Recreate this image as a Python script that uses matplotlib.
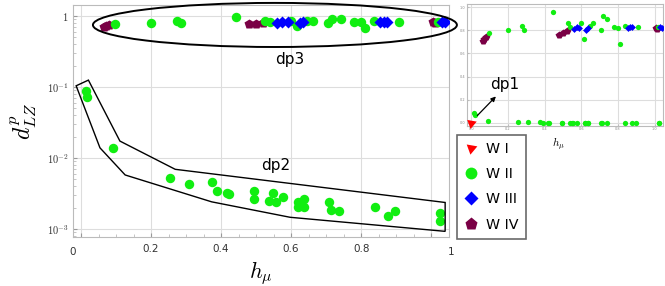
import matplotlib
matplotlib.use("Agg")
import matplotlib.pyplot as plt
import numpy as np
from matplotlib.patches import Ellipse, Polygon
from matplotlib.lines import Line2D
from matplotlib.ticker import MultipleLocator, LogLocator, NullFormatter

plt.rcParams['mathtext.fontset'] = 'cm'

# ---------------- data ----------------
# W I (red triangle) - only visible on linear inset (value 0)
w1_x = [0.0]
w1_y = [0.0]

# W II (green circles)
w2_x = [0.014, 0.018, 0.091, 0.254, 0.309, 0.373, 0.389, 0.416, 0.424, 0.494, 0.494,
        0.538, 0.548, 0.557, 0.576, 0.621, 0.621, 0.637, 0.637, 0.707, 0.713, 0.738,
        0.840, 0.878, 0.897, 1.024, 1.024,
        0.097, 0.199, 0.275, 0.286, 0.443, 0.526, 0.540, 0.600, 0.617, 0.645, 0.663,
        0.706, 0.716, 0.742, 0.780, 0.800, 0.810, 0.836, 0.909, 1.020]
w2_y = [0.0867, 0.0715, 0.0139, 0.00518, 0.00426, 0.00459, 0.00337, 0.00316, 0.00309,
        0.00337, 0.00262, 0.00244, 0.00319, 0.00241, 0.00283, 0.00241, 0.00207, 0.00262,
        0.00207, 0.00241, 0.00186, 0.00177, 0.00204, 0.00150, 0.00180, 0.00167, 0.00130,
        0.78, 0.80, 0.84, 0.80, 0.96, 0.86, 0.83, 0.86, 0.72, 0.84, 0.86,
        0.80, 0.92, 0.90, 0.83, 0.815, 0.68, 0.84, 0.83, 0.83]

# W III (blue diamonds)
w3_x = [0.560, 0.575, 0.590, 0.625, 0.635, 0.855, 0.865, 0.875, 1.030, 1.040]
w3_y = [0.810, 0.825, 0.815, 0.800, 0.815, 0.820, 0.830, 0.825, 0.830, 0.820]

# W IV (maroon pentagons)
w4_x = [0.065, 0.072, 0.080, 0.480, 0.500, 0.520, 1.006, 1.012]
w4_y = [0.705, 0.725, 0.745, 0.760, 0.775, 0.790, 0.820, 0.810]

# dp2 region outline (data coords)
dp2_x = [-0.014, 0.021, 0.111, 0.269, 1.04, 1.04, 0.597, 0.373, 0.126, 0.054]
dp2_y = [0.104, 0.125, 0.0173, 0.00692, 0.00236, 0.000925, 0.00146, 0.00241, 0.00576, 0.0139]

labels = ['W I', 'W II', 'W III', 'W IV']
c_red, c_green, c_blue, c_maroon = '#ff0000', '#11ee11', '#0000ff', '#7a0045'

# ---------------- figure ----------------
W, H = 665, 286
fig = plt.figure(figsize=(W / 100, H / 100), dpi=100)

def box(l, t, r, b):
    return [l / W, 1 - b / H, (r - l) / W, (b - t) / H]

grid_c = '#dddddd'
frame_c = '#bbbbbb'

ax = fig.add_axes(box(73, 5, 449, 237))
ax.set_yscale('log')
ax.set_xlim(-0.023, 1.051)
ax.set_ylim(7.7e-4, 1.43)
ax.grid(True, color=grid_c, lw=0.8)
ax.set_axisbelow(True)
for s in ax.spines.values():
    s.set_color(frame_c)
ax.tick_params(direction='in', colors='#999999', labelcolor='#333333', labelsize=7.5, length=3, pad=3)
ax.tick_params(axis='x', pad=5)
ax.tick_params(which='minor', direction='in', colors='#bbbbbb', length=2)
ax.set_xticks([0, 0.2, 0.4, 0.6, 0.8, 1.0])
ax.set_xticklabels(['', '0.2', '0.4', '0.6', '0.8', ''])
ax.xaxis.set_minor_locator(MultipleLocator(0.05))
ax.set_yticks([1, 0.1, 0.01, 0.001])
ax.set_yticklabels([r'$1$', r'$10^{-1}$', r'$10^{-2}$', r'$10^{-3}$'])
ax.yaxis.set_minor_locator(LogLocator(base=10, subs=np.arange(2, 10)))
ax.yaxis.set_minor_formatter(NullFormatter())
ax.text(0, -0.045, '0', transform=ax.transAxes, ha='center', va='top', fontsize=7.5, color='#333333')
ax.text(1.005, -0.045, '1', transform=ax.transAxes, ha='center', va='top', fontsize=7.5, color='#333333')

ms_main = 6.8
ax.plot(w2_x, w2_y, 'o', color=c_green, ms=ms_main, mec='none', zorder=3)
ax.plot(w3_x, w3_y, 'D', color=c_blue, ms=ms_main - 0.5, mec='none', zorder=3)
ax.plot(w4_x, w4_y, 'p', color=c_maroon, ms=ms_main + 1, mec='none', zorder=2)

ax.add_patch(Polygon(np.column_stack([dp2_x, dp2_y]), closed=True, fill=False,
                     ec='black', lw=1.0, zorder=4, clip_on=False))
ax.add_patch(Ellipse((0.537, 0.914), 0.968, 0.19, transform=ax.transAxes, fill=False,
                     ec='black', lw=1.4, zorder=4, clip_on=False))
ax.text(0.597, 0.241, 'dp3', fontsize=11, ha='center', va='center')
ax.text(0.557, 0.0079, 'dp2', fontsize=11, ha='center', va='center')

ax.set_xlabel(r'$h_\mu$', fontsize=16, labelpad=4)
ax.set_ylabel(r'$d^p_{LZ}$', fontsize=17, labelpad=6)

# ---------------- inset ----------------
ai = fig.add_axes(box(467, 4, 663, 126))
ai.set_xlim(-0.023, 1.045)
ai.set_ylim(-0.026, 1.026)
ai.grid(True, color=grid_c, lw=0.8)
ai.set_axisbelow(True)
for s in ai.spines.values():
    s.set_color(frame_c)
ai.set_xticks([0, 0.2, 0.4, 0.6, 0.8, 1.0])
ai.set_yticks([0, 0.2, 0.4, 0.6, 0.8, 1.0])
ai.tick_params(direction='in', colors='#bbbbbb', labelcolor='#888888', labelsize=2.5, length=1.5, pad=1)
ms_in = 3.8
ai.plot(w2_x, w2_y, 'o', color=c_green, ms=ms_in, mec='none', zorder=3)
ai.plot(w3_x, w3_y, 'D', color=c_blue, ms=ms_in - 0.3, mec='none', zorder=3)
ai.plot(w4_x, w4_y, 'p', color=c_maroon, ms=ms_in + 1.5, mec='none', zorder=2)
ai.plot(w1_x, w1_y, marker=(3, 0, -70), color=c_red, ms=8, mec='none', ls='none', zorder=4, clip_on=False)
ai.annotate('', xy=(0.145, 0.246), xytext=(0.023, 0.047),
            arrowprops=dict(arrowstyle='-|>', color='black', lw=0.9, mutation_scale=7))
ai.text(0.184, 0.33, 'dp1', fontsize=11, ha='center', va='center')
ai.set_xlabel(r'$h_\mu$', fontsize=8)
ai.xaxis.set_label_coords(0.465, -0.08)

# ---------------- legend ----------------
handles = [
    Line2D([], [], marker=(3, 0, -70), color=c_red, ls='none', ms=9, mec='none'),
    Line2D([], [], marker='o', color=c_green, ls='none', ms=8.5, mec='none'),
    Line2D([], [], marker='D', color=c_blue, ls='none', ms=7, mec='none'),
    Line2D([], [], marker='p', color=c_maroon, ls='none', ms=9.5, mec='none'),
]
leg = fig.legend(handles, labels, loc='upper left', bbox_to_anchor=(457 / W, 1 - 135 / H),
                 fontsize=10.3, frameon=True, fancybox=False, edgecolor='#444444',
                 handlelength=1.0, handletextpad=0.55, labelspacing=0.78, borderpad=0.5,
                 borderaxespad=0)
leg.get_frame().set_linewidth(1.2)

fig.savefig('out.png', dpi=100)
